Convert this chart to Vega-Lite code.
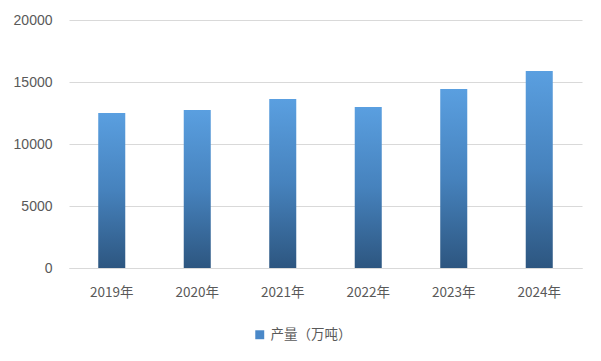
{
  "$schema": "https://vega.github.io/schema/vega-lite/v6.json",
  "width": 513,
  "height": 248,
  "autosize": {"type": "none"},
  "padding": {"left": 69, "top": 20, "right": 19, "bottom": 93},
  "background": "white",
  "data": {
    "values": [
      {"year": "2019年", "value": 12500, "series": "产量（万吨）"},
      {"year": "2020年", "value": 12750, "series": "产量（万吨）"},
      {"year": "2021年", "value": 13620, "series": "产量（万吨）"},
      {"year": "2022年", "value": 12990, "series": "产量（万吨）"},
      {"year": "2023年", "value": 14430, "series": "产量（万吨）"},
      {"year": "2024年", "value": 15880, "series": "产量（万吨）"}
    ]
  },
  "encoding": {
    "x": {
      "field": "year",
      "type": "nominal",
      "sort": null,
      "scale": {"paddingInner": 0.684, "paddingOuter": 0.342},
      "axis": {
        "title": null,
        "labelAngle": 0,
        "ticks": false,
        "domainColor": "#d9d9d9",
        "labelPadding": 17,
        "labelFontSize": 13.5,
        "labelColor": "#595959",
        "labelFont": "Noto Sans CJK SC"
      }
    },
    "y": {
      "field": "value",
      "type": "quantitative",
      "scale": {"domain": [0, 20000]},
      "axis": {
        "title": null,
        "values": [0, 5000, 10000, 15000, 20000],
        "format": "d",
        "domain": false,
        "ticks": false,
        "gridColor": "#d9d9d9",
        "labelPadding": 17,
        "labelFontSize": 14,
        "labelColor": "#595959",
        "labelFont": "Liberation Sans"
      }
    }
  },
  "layer": [
    {
      "mark": {
        "type": "bar",
        "color": {
          "gradient": "linear",
          "x1": 0, "y1": 0, "x2": 0, "y2": 1,
          "stops": [
            {"offset": 0, "color": "#5a9fe0"},
            {"offset": 0.5, "color": "#4682bd"},
            {"offset": 1, "color": "#2d5680"}
          ]
        }
      }
    },
    {
      "mark": {"type": "square", "opacity": 0, "size": 1},
      "encoding": {
        "color": {
          "field": "series",
          "type": "nominal",
          "scale": {"range": ["#4a88c8"]},
          "legend": {
            "title": null,
            "orient": "none",
            "legendX": 184,
            "legendY": 308,
            "symbolType": "square",
            "symbolSize": 80,
            "symbolOpacity": 1,
            "symbolStrokeWidth": 0,
            "labelFontSize": 13.5,
            "labelColor": "#595959",
            "labelFont": "Noto Sans CJK SC"
          }
        }
      }
    }
  ],
  "config": {
    "view": {"stroke": null}
  }
}
